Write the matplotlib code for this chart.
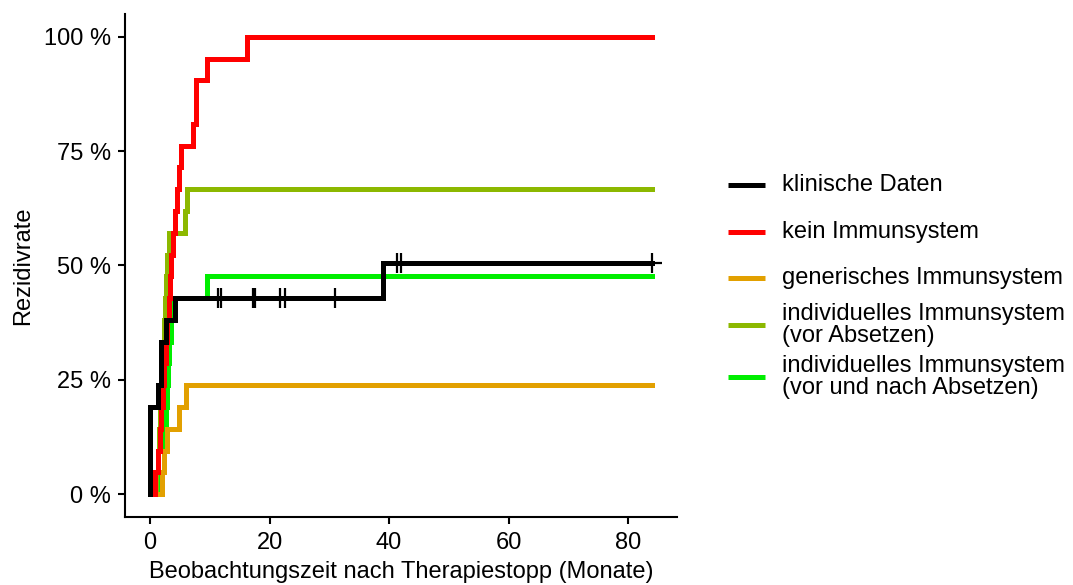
import numpy as np
import matplotlib
matplotlib.use("Agg")
import matplotlib.pyplot as plt
from matplotlib.lines import Line2D
from matplotlib.ticker import FuncFormatter

plt.rcParams["font.family"] = ["Liberation Sans", "DejaVu Sans"]

# Follow-up end (months)
t_end = 84.0

# Cumulative relapse rate (%) per series: event times (months) and values after each step
klinisch_t = [0.0, 1.3, 1.8, 1.9, 2.7, 4.2, 39.0]
klinisch_v = [19.05, 23.81, 28.57, 33.33, 38.10, 42.86, 50.5]
klinisch_censor = [11.4, 11.8, 17.3, 17.5, 21.7, 22.6, 31.0, 41.3, 42.0, 84.0]

kein_t = [0.9, 1.4, 1.7, 1.9, 2.1, 2.4, 2.6, 2.8, 3.1, 3.3, 3.5, 3.8, 4.1,
          4.5, 4.8, 5.2, 7.1, 7.6, 7.6, 9.6, 16.3]
kein_v = [4.76, 9.52, 14.29, 19.05, 23.81, 28.57, 33.33, 38.10, 42.86, 47.62,
          52.38, 57.14, 61.90, 66.67, 71.43, 76.19, 80.95, 85.71, 90.48, 95.24, 100.0]

generisch_t = [2.0, 2.4, 2.9, 4.9, 6.0]
generisch_v = [4.76, 9.52, 14.29, 19.05, 23.81]

indiv_vor_t = [1.0, 1.3, 1.5, 1.6, 1.7, 1.8, 2.0, 2.3, 2.5, 2.7, 2.9, 3.2, 5.8, 6.1]
indiv_vor_v = [4.76, 9.52, 14.29, 19.05, 23.81, 28.57, 33.33, 38.10, 42.86, 47.62,
               52.38, 57.14, 61.90, 66.67]

indiv_nach_t = [1.9, 2.3, 2.5, 2.6, 2.8, 3.0, 3.2, 3.5, 4.0, 9.5]
indiv_nach_v = [4.76, 9.52, 14.29, 19.05, 23.81, 28.57, 33.33, 38.10, 42.86, 47.62]

labels = ["klinische Daten", "kein Immunsystem", "generisches Immunsystem",
          "individuelles Immunsystem\n(vor Absetzen)",
          "individuelles Immunsystem\n(vor und nach Absetzen)"]
colors = ["#000000", "#FF0000", "#E2A000", "#8CB800", "#00EE00"]


def step_xy(times, values):
    xs = [0.0] + list(times) + [t_end]
    ys = [0.0] + list(values) + [values[-1]]
    return xs, ys


fig = plt.figure(figsize=(10.73, 5.85), dpi=100)
ax = fig.add_axes([0.1165, 0.1162, 0.5145, 0.8600])

lw = 3.6
fs = 17
series = [
    (indiv_nach_t, indiv_nach_v, colors[4]),
    (indiv_vor_t, indiv_vor_v, colors[3]),
    (generisch_t, generisch_v, colors[2]),
    (kein_t, kein_v, colors[1]),
    (klinisch_t, klinisch_v, colors[0]),
]
for t, v, c in series:
    xs, ys = step_xy(t, v)
    ax.step(xs, ys, where="post", color=c, lw=lw, solid_joinstyle="miter")

# Censoring marks on the clinical curve
kt = np.array([0.0] + klinisch_t)
kv = np.array([0.0] + klinisch_v)
cens_y = [kv[np.searchsorted(kt, c, side="right") - 1] for c in klinisch_censor]
ax.plot(klinisch_censor, cens_y, linestyle="none", marker="+", color="black",
        markersize=14, markeredgewidth=1.6, zorder=5)

ax.set_xlim(-4.2, 88.2)
ax.set_ylim(-5, 105)
ax.set_xticks([0, 20, 40, 60, 80])
ax.set_yticks([0, 25, 50, 75, 100])
ax.yaxis.set_major_formatter(FuncFormatter(lambda v, p: f"{int(v)} %"))

for s in ["top", "right"]:
    ax.spines[s].set_visible(False)
for s in ["left", "bottom"]:
    ax.spines[s].set_linewidth(1.5)
    ax.spines[s].set_color("black")
ax.tick_params(direction="out", length=5, width=1.5, color="black",
               labelsize=fs, labelcolor="black")
ax.tick_params(axis="x", pad=6)
ax.tick_params(axis="y", pad=5)

ax.set_xlabel("Beobachtungszeit nach Therapiestopp (Monate)", fontsize=fs, labelpad=5)
ax.set_ylabel("Rezidivrate", fontsize=fs, labelpad=7)

# Legend drawn in figure pixel coordinates
W, H = 1073, 585
key_y = [185, 232, 278, 325, 377]
for y, c, lab in zip(key_y, colors, labels):
    fig.add_artist(Line2D([728 / W, 765 / W], [1 - y / H, 1 - y / H],
                          color=c, lw=lw, solid_capstyle="butt"))
    fig.text(782 / W, 1 - y / H, lab, fontsize=fs, va="center", ha="left",
             linespacing=1.0)

fig.savefig("out.png", dpi=100)
